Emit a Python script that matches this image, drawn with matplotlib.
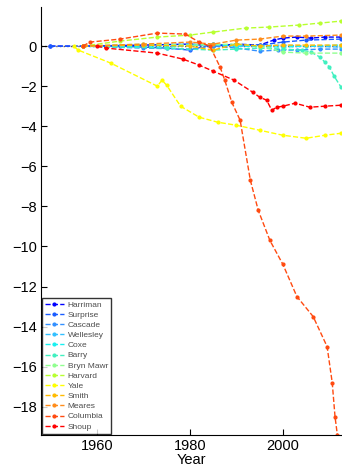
"""
Cumulative glacier mass balance, recreated with matplotlib
"""

import matplotlib
matplotlib.use("Agg")
import matplotlib.pyplot as plt

plt.rcParams["font.family"] = ["Liberation Sans", "DejaVu Sans"]

# glacier names in legend order
names = ["Harriman", "Surprise", "Cascade", "Wellesley", "Coxe", "Barry",
         "Bryn Mawr", "Harvard", "Yale", "Smith", "Meares", "Columbia", "Shoup"]

# colours (blue -> red)
colors = ["#0000ff", "#1a5cff", "#3390ff", "#33c0ff", "#19f0f0", "#40f0c0",
          "#90ff90", "#b8ff30", "#ffff00", "#ffbb00", "#ff8c1a", "#ff4a10",
          "#ff0000"]

# years and cumulative values
harriman_yr = [1950, 1957, 1970, 1980, 1985, 1990, 1995, 1998, 2000, 2003, 2006, 2009, 2012.5]
harriman_v = [0, 0, 0.05, 0.1, 0.0, 0.1, 0.05, 0.3, 0.4, 0.45, 0.4, 0.45, 0.45]

surprise_yr = [1950, 1965, 1975, 1980, 1985, 1990, 1995, 2000, 2005, 2012.5]
surprise_v = [0, 0, -0.1, -0.2, 0.1, 0.0, 0.05, 0.2, 0.3, 0.35]

cascade_yr = [1957, 1970, 1980, 1985, 1990, 1995, 1999, 2003, 2008, 2012.5]
cascade_v = [0, -0.1, -0.15, 0.0, -0.1, -0.25, -0.2, -0.2, -0.15, -0.15]

wellesley_yr = [1957, 1970, 1980, 1990, 2000, 2005, 2012.5]
wellesley_v = [0, 0.05, 0.1, 0.0, 0.05, 0.0, -0.05]

coxe_yr = [1957, 1975, 1985, 1990, 2000, 2005, 2012.5]
coxe_v = [0, -0.05, 0.1, 0.0, -0.05, 0.0, 0.05]

barry_yr = [1957, 1975, 1985, 1990, 1995, 2000, 2004, 2006, 2008, 2009, 2010, 2011, 2012.5]
barry_v = [0, -0.1, -0.2, -0.15, -0.1, -0.15, -0.2, -0.3, -0.55, -0.8, -1.05, -1.5, -2.05]

brynmawr_yr = [1957, 1970, 1980, 1990, 1995, 2000, 2005, 2012.5]
brynmawr_v = [0, 0.1, 0.05, 0.1, 0.0, -0.3, -0.35, -0.35]

harvard_yr = [1957, 1965, 1973, 1980, 1985, 1992, 1997, 2003.5, 2008, 2012.5]
harvard_v = [0, 0.25, 0.45, 0.55, 0.7, 0.9, 0.95, 1.05, 1.15, 1.25]

yale_yr = [1955, 1956, 1963, 1973, 1974, 1975, 1978, 1982, 1986, 1990, 1995, 2000, 2005, 2009, 2012.5]
yale_v = [0, -0.2, -0.85, -2.0, -1.7, -1.95, -3.0, -3.55, -3.8, -3.95, -4.2, -4.45, -4.6, -4.45, -4.35]

smith_yr = [1957, 1970, 1980, 1985, 1990, 1995, 2000, 2005, 2012.5]
smith_v = [0, 0.05, 0.0, -0.2, 0.1, 0.0, 0.05, 0.05, 0.05]

meares_yr = [1957, 1970, 1980, 1985, 1990, 1995, 2000, 2005, 2012.5]
meares_v = [0, 0.1, 0.2, 0.1, 0.3, 0.35, 0.5, 0.5, 0.55]

columbia_yr = [1957, 1958.5, 1965, 1973, 1979, 1982, 1984.3, 1986.5, 1987.5, 1989, 1990.8,
               1993, 1994.7, 1997.2, 2000, 2003, 2006.5, 2009.5, 2010.6, 2011.2, 2011.7, 2012]
columbia_v = [0, 0.2, 0.35, 0.65, 0.6, 0.2, 0.0, -1.05, -1.7, -2.8, -3.7,
              -6.7, -8.2, -9.7, -10.9, -12.5, -13.5, -15.0, -16.8, -18.5, -19.4, -20.0]

shoup_yr = [1960, 1962, 1973, 1978.5, 1982, 1985, 1989.5, 1993.5, 1995, 1996.5, 1997.6,
            1998.7, 2000, 2002.6, 2005.8, 2009, 2012.5]
shoup_v = [0, -0.1, -0.35, -0.65, -0.95, -1.25, -1.7, -2.3, -2.55, -2.7, -3.2,
           -3.05, -3.0, -2.85, -3.05, -3.0, -2.95]

years = [harriman_yr, surprise_yr, cascade_yr, wellesley_yr, coxe_yr, barry_yr,
         brynmawr_yr, harvard_yr, yale_yr, smith_yr, meares_yr, columbia_yr, shoup_yr]
values = [harriman_v, surprise_v, cascade_v, wellesley_v, coxe_v, barry_v,
          brynmawr_v, harvard_v, yale_v, smith_v, meares_v, columbia_v, shoup_v]

fig = plt.figure(figsize=(3.42, 4.69), dpi=100)
ax = fig.add_axes([0.12, 0.073, 0.88, 0.912])

# dotted zero reference line
ax.axhline(0, color="0.35", ls=":", lw=1, zorder=1)

for name, c, x, y in zip(names, colors, years, values):
    ax.plot(x, y, "--", marker=".", color=c, lw=1, ms=4, label=name, zorder=2)

ax.set_xlim(1948, 2012.7)
ax.set_ylim(-19.4, 1.95)
ax.set_xticks([1960, 1980, 2000])
ax.set_yticks(range(-18, 1, 2))
ax.set_yticklabels(["\u2212%d" % -t if t < 0 else "%d" % t for t in range(-18, 1, 2)])
ax.tick_params(direction="in", length=4, labelsize=10.5, pad=3)
ax.set_xlabel("Year", fontsize=10.5, labelpad=0)

for s in ["top", "right"]:
    ax.spines[s].set_visible(False)

leg = ax.legend(loc="lower left", fontsize=6, frameon=True, fancybox=False,
                borderaxespad=0.15, handlelength=2.2, labelspacing=0.28,
                borderpad=0.35, handletextpad=0.5)
leg.get_frame().set_edgecolor("black")
leg.get_frame().set_linewidth(1)
for t in leg.get_texts():
    t.set_color("0.3")

fig.savefig("out.png", dpi=100)
